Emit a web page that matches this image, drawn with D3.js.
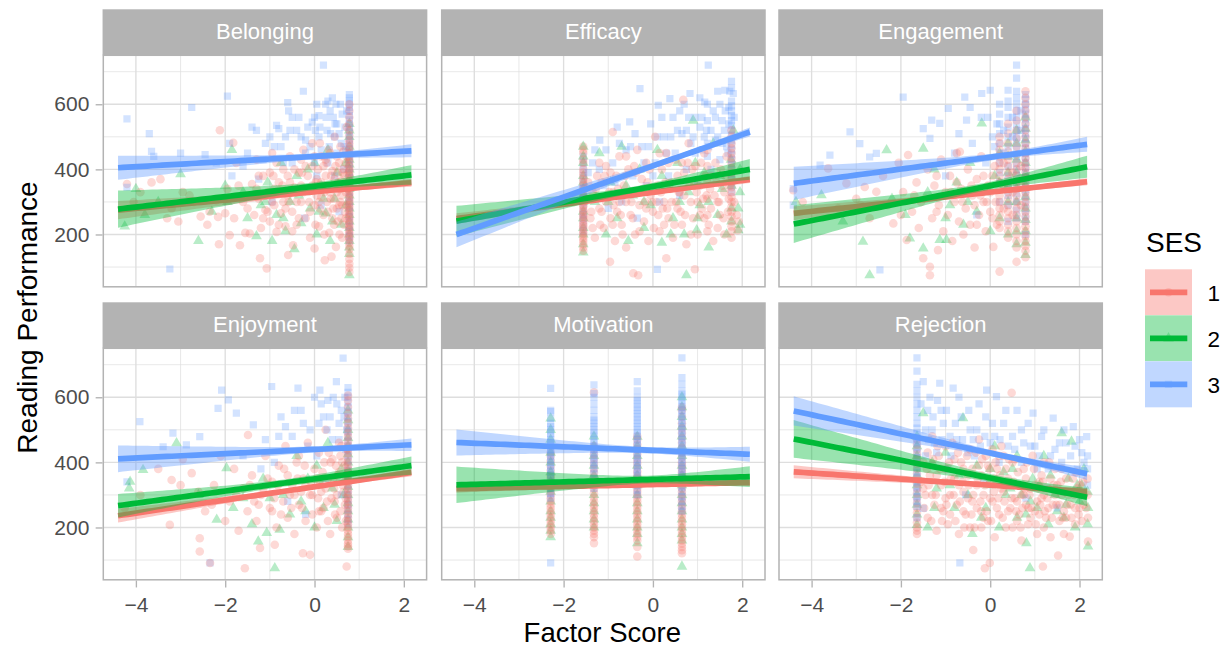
<!DOCTYPE html>
<html><head><meta charset="utf-8">
<script src="https://cdn.jsdelivr.net/npm/d3@7"></script>
<style>
html,body{margin:0;padding:0;background:#fff;}
svg{display:block;font-family:"Liberation Sans",Arial,Helvetica,sans-serif;}
</style></head><body>
<svg id="chart" width="1224" height="648"></svg>
<script>
// Facets, groups and axis breaks
const factors = ["Belonging","Efficacy","Engagement","Enjoyment","Motivation","Rejection"];
const sesLevels = ["1","2","3"];
const sesColors = ["#F8766D","#00BA38","#619CFF"];
const xTicks = [-4,-2,0,2];
const xMinor = [-3,-1,1];
const yTicks = [200,400,600];
const yMinor = [100,300,500,700];
const xDomain = [-4.73, 2.51];
const yDomain = [39.3, 750.4];
const fitRange = [-4.40, 2.17];

// pairs a factor-score value shared by several students with their reading scores
function col(x, ys){ return ys.map(y => [x, y]); }

// ---- Belonging: [factor score, reading performance]
const belonging1 = [[-4.2,355],[-4.05,300],[-3.9,330],[-3.65,360],[-3.45,370],[-3.3,250],[-3.2,280],[-3.05,240],[-2.95,330],[-2.8,320],[-2.7,300],[-2.55,255],[-2.4,230],[-2.35,270],[-2.2,305],[-2.16,254],[-2.14,170],[-2.12,520],[-2.0,265],[-1.95,340],[-1.9,198],[-1.82,482],[-1.8,250],[-1.75,420],[-1.7,350],[-1.67,167],[-1.6,300],[-1.55,205],[-1.5,280],[-1.45,203],[-1.4,355],[-1.35,260],[-1.3,430],[-1.3,340],[-1.25,310],[-1.22,127],[-1.2,220],[-1.15,380],[-1.15,250],[-1.1,275],[-1.07,96],[-1.05,330],[-1.0,240],[-1.0,390],[-0.95,450],[-0.95,300],[-0.9,290],[-0.9,340],[-0.85,208],[-0.85,420],[-0.8,360],[-0.8,230],[-0.75,265],[-0.75,330],[-0.7,400],[-0.7,300],[-0.65,225],[-0.65,280],[-0.6,320],[-0.6,380],[-0.59,137],[-0.55,440],[-0.55,360],[-0.5,270],[-0.5,210],[-0.48,167],[-0.45,345],[-0.45,400],[-0.4,230],[-0.4,300],[-0.35,390],[-0.35,250],[-0.3,300],[-0.3,350],[-0.3,430],[-0.25,460],[-0.25,330],[-0.2,250],[-0.2,410],[-0.15,335],[-0.15,380],[-0.1,190],[-0.1,270],[-0.05,410],[-0.05,350],[0,157],[0,290],[0,440],[0.02,230],[0.05,370],[0.05,320],[0.08,400],[0.1,225],[0.1,300],[0.12,480],[0.15,315],[0.15,360],[0.18,340],[0.2,260],[0.2,410],[0.22,200],[0.23,121],[0.25,430],[0.25,380],[0.28,300],[0.3,350],[0.3,270],[0.32,460],[0.33,205],[0.35,330],[0.36,310],[0.38,132],[0.4,395],[0.4,250],[0.4,350],[0.42,280],[0.44,230],[0.45,500],[0.45,370],[0.47,410],[0.48,162],[0.5,330],[0.5,440],[0.5,280],[0.52,240],[0.53,360],[0.55,420],[0.55,290],[0.56,200],[0.58,300],[0.58,470],[0.6,365],[0.6,250],[0.6,320],[0.62,190],[0.63,390],[0.65,455],[0.65,400],[0.66,230],[0.68,270],[0.68,350],[0.7,330],[0.7,420],[0.72,290],[0.72,530],
  ...col(0.78,[600,580,560,540,520,505,490,480,470,460,450,440,430,420,410,400,395,387,380,372,365,357,350,342,335,327,320,312,305,297,290,282,275,267,260,252,245,237,230,222,215,207,200,192,185,175,165,155,140,125,110,98,85]),
  [-1.45,320],[-1.25,380],[-1.05,270],[-0.92,380],[-0.72,350],[-0.58,300],[-0.42,330],[-0.28,390],[-0.12,300],[0.03,360],[0.12,280],[0.22,330],[0.27,420],[0.37,380],[0.43,310],[0.52,390],[0.57,340],[0.62,290],[0.67,380],[0.7,250],[0.73,440],[0.73,340],[0.35,450],[0.15,440],[-0.05,480]];
const belonging2 = [[-4.25,225],[-4.0,340],[-3.8,260],[-3.5,300],[-3.0,385],[-2.6,180],[-2.3,270],[-2.0,350],[-1.95,300],[-1.85,460],[-1.6,330],[-1.5,250],[-1.3,195],[-1.2,290],[-1.1,300],[-1.05,360],[-0.95,180],[-0.85,260],[-0.75,420],[-0.7,250],[-0.65,210],[-0.55,300],[-0.45,155],[-0.4,380],[-0.35,320],[-0.3,235],[-0.2,330],[-0.15,400],[-0.1,280],[0,420],[0.05,200],[0.1,270],[0.15,350],[0.2,310],[0.25,265],[0.3,460],[0.35,180],[0.4,240],[0.45,310],[0.5,390],[0.55,350],[0.6,230],[0.65,340],[0.7,290],[0.7,420],
  ...col(0.78,[540,520,500,470,450,430,415,400,385,370,355,340,320,300,280,260,240,220,200,180,160,140,75])];
const belonging3 = [[-4.2,555],[-4.2,345],[-3.7,510],[-3.65,455],[-3.6,440],[-3.24,94],[-3.0,450],[-2.75,590],[-2.45,445],[-2.2,420],[-1.95,625],[-1.9,480],[-1.85,380],[-1.6,410],[-1.5,450],[-1.4,530],[-1.3,520],[-1.25,370],[-1.15,430],[-1.1,480],[-1.0,500],[-0.95,300],[-0.9,470],[-0.85,535],[-0.8,525],[-0.7,420],[-0.65,500],[-0.6,605],[-0.58,580],[-0.5,560],[-0.5,420],[-0.45,330],[-0.4,520],[-0.35,560],[-0.3,500],[-0.25,640],[-0.22,250],[-0.2,490],[-0.15,530],[-0.1,470],[-0.05,545],[0,560],[0,420],[0.02,520],[0.05,380],[0.05,600],[0.1,565],[0.1,500],[0.15,290],[0.15,460],[0.2,720],[0.22,440],[0.25,600],[0.28,520],[0.3,610],[0.3,420],[0.33,470],[0.35,580],[0.38,350],[0.4,620],[0.42,560],[0.45,500],[0.45,380],[0.48,600],[0.5,450],[0.5,540],[0.55,270],[0.55,510],[0.6,480],[0.62,570],[0.65,400],[0.68,530],[0.7,460],
  ...col(0.78,[630,620,610,600,590,578,565,552,540,528,515,502,490,478,465,452,440,428,415,402,390,375,360,345,330,315,300,285,270,255,240,225,210,195,180]),
  [-0.75,470],[-0.55,520],[-0.2,450],[0.12,530],[0.26,560],[0.36,510],[0.46,540],[0.58,600],[0.66,470],[0.72,580]];

// ---- Efficacy
const efficacy1 = [...col(-1.56,[470,460,450,430,420,400,390,380,370,360,350,340,330,320,310,300,290,285,275,270,262,255,248,240,232,225,218,210,203,195,188,180,170,160,150]),
  [-1.45,360],[-1.4,250],[-1.35,330],[-1.35,220],[-1.3,190],[-1.25,380],[-1.2,420],[-1.2,280],[-1.15,360],[-1.15,270],[-1.1,220],[-1.05,300],[-1.05,410],[-0.98,330],[-0.96,116],[-0.95,250],[-0.95,390],[-0.9,515],[-0.9,230],[-0.89,330],[-0.85,180],[-0.82,380],[-0.8,270],[-0.75,440],[-0.75,300],[-0.7,230],[-0.68,200],[-0.65,350],[-0.6,300],[-0.6,160],[-0.6,440],[-0.55,400],[-0.52,330],[-0.5,260],[-0.45,250],[-0.44,81],[-0.45,330],[-0.4,200],[-0.38,390],[-0.35,460],[-0.33,75],[-0.3,290],[-0.3,210],[-0.25,370],[-0.22,340],[-0.2,240],[-0.15,420],[-0.15,280],[-0.1,180],[-0.08,400],[-0.05,320],[0,270],[0.02,220],[0.05,500],[0.08,300],[0.1,350],[0.15,210],[0.15,450],[0.2,400],[0.22,280],[0.25,300],[0.28,360],[0.3,127],[0.3,450],[0.35,250],[0.35,420],[0.4,360],[0.42,300],[0.45,190],[0.48,230],[0.5,430],[0.55,280],[0.55,380],[0.6,330],[0.62,270],[0.65,230],[0.68,614],[0.7,390],[0.7,320],[0.75,170],[0.78,420],[0.8,480],[0.85,300],[0.85,200],[0.9,250],[0.92,350],[0.94,93],[0.95,410],[1.0,200],[1.0,300],[1.05,350],[1.08,420],[1.1,280],[1.15,450],[1.15,250],[1.2,320],[1.25,230],[1.3,380],[1.3,280],[1.35,180],[1.38,320],[1.4,420],[1.45,300],[1.45,220],[1.5,260],[1.52,400],[1.55,350],[1.6,200],[1.6,330],[1.65,440],[1.68,270],[1.7,310],
  ...col(1.22,[460,410,360,310,260,210]),
  ...col(1.76,[520,500,480,465,450,435,420,405,390,375,360,345,330,315,300,285,270,255,240,225,210,190]),[1.9,213],[1.92,240],
  [-1.48,310],[-1.38,270],[-1.28,340],[-1.18,230],[-1.08,380],[-0.88,290],[-0.78,340],[-0.72,260],[-0.62,380],[-0.48,300],[-0.42,410],[-0.28,330],[-0.18,300],[-0.12,360],[-0.02,300],[0.12,260],[0.18,330],[0.32,280],[0.38,340],[0.52,300],[0.58,330],[0.72,260],[0.82,350],[0.88,400],[0.98,330],[1.12,310],[1.18,380],[1.28,340],[1.42,360],[1.48,300],[1.58,250],[1.62,380],[1.72,350],[1.82,300],[1.88,260],[0.25,230],[0.65,420],[1.05,260]];
const efficacy2 = [...col(-1.56,[470,440,420,380,360,340,320,300,270,250,220,200,170,145]),
  [-1.3,300],[-1.2,450],[-1.05,200],[-1.0,300],[-0.95,360],[-0.8,250],[-0.7,470],[-0.6,350],[-0.55,180],[-0.45,320],[-0.3,400],[-0.2,220],[-0.2,300],[-0.05,290],[0.1,460],[0.2,175],[0.2,380],[0.3,350],[0.4,200],[0.45,250],[0.55,420],[0.6,300],[0.7,200],[0.75,75],[0.8,330],[0.9,550],[0.95,420],[0.98,213],[1.0,250],[1.05,290],[1.15,390],[1.25,160],[1.25,300],[1.35,480],[1.45,260],[1.5,380],[1.55,340],[1.65,200],[1.75,430],[1.76,350],[1.76,280],[1.76,240],[1.8,520],[1.91,213],[1.91,280],[1.95,330],[1.95,400],[1.95,230]];
const efficacy3 = [...col(-1.56,[440,420,400,380,360,340,320,300,280,260,250,230,210]),
  [-1.45,390],[-1.3,460],[-1.2,400],[-1.19,490],[-1.1,350],[-1.0,280],[-0.9,420],[-0.85,360],[-0.8,530],[-0.7,300],[-0.6,460],[-0.52,546],[-0.5,470],[-0.45,380],[-0.35,250],[-0.29,648],[-0.25,470],[-0.2,420],[-0.15,350],[-0.05,540],[0.05,420],[0.1,93],[0.1,500],[0.12,597],[0.15,300],[0.25,500],[0.3,450],[0.35,380],[0.38,617],[0.45,560],[0.5,450],[0.55,520],[0.6,320],[0.65,510],[0.7,600],[0.75,400],[0.8,560],[0.83,633],[0.85,480],[0.9,500],[0.95,560],[1.0,350],[1.05,620],[1.1,460],[1.1,560],[1.16,607],[1.2,520],[1.24,720],[1.25,470],[1.3,400],[1.35,580],[1.4,490],[1.4,560],[1.45,640],[1.5,430],[1.5,600],[1.55,550],[1.6,520],[1.61,643],[1.65,470],[1.7,590],[1.7,540],[1.8,633],
  ...col(1.22,[600,550,480,440]),
  ...col(1.76,[670,650,610,595,580,565,550,535,520,505,490,475,460,445,430,415,400,385,370,350,330]),
  [-1.35,420],[-1.05,460],[-0.75,480],[-0.4,510],[-0.1,470],[0.2,560],[0.4,500],[0.6,580],[0.75,520],[0.95,450],[1.05,530],[1.15,500],[1.3,520],[1.45,500],[1.55,480],[1.62,580],[1.68,450],[1.72,640],[1.82,560],[0.0,380]];

// ---- Engagement
const engagement1 = [[-4.41,336],[-4.2,300],[-3.63,403],[-3.4,280],[-3.22,357],[-3.0,310],[-2.9,290],[-2.81,346],[-2.7,250],[-2.55,331],[-2.4,380],[-2.3,290],[-2.17,234],[-2.05,420],[-2.0,260],[-1.95,330],[-1.87,183],[-1.84,444],[-1.75,270],[-1.7,320],[-1.65,360],[-1.6,220],[-1.5,127],[-1.45,310],[-1.4,400],[-1.35,75],[-1.35,101],[-1.3,250],[-1.25,350],[-1.2,380],[-1.17,152],[-1.15,290],[-1.1,430],[-1.05,210],[-1.0,330],[-0.95,260],[-0.95,320],[-0.9,380],[-0.85,180],[-0.8,300],[-0.75,450],[-0.75,360],[-0.7,240],[-0.68,454],[-0.65,340],[-0.6,200],[-0.55,280],[-0.55,330],[-0.5,400],[-0.45,230],[-0.4,320],[-0.35,160],[-0.35,290],[-0.3,370],[-0.25,260],[-0.2,440],[-0.15,300],[-0.15,380],[-0.1,210],[-0.05,350],[0,270],[0,330],[0.05,250],[0.07,162],[0.1,410],
  ...col(0.21,[500,480,460,440,420,400,380,360,340,320,300,280,260,240,220,86]),
  ...col(0.4,[540,510,480,455,430,410,390,370,350,330,310,290,270,250,230,210,190]),
  ...col(0.59,[580,550,520,495,470,445,420,400,380,360,340,320,300,280,260,240,220,200,180,160,116]),
  ...col(0.79,[640,620,600,580,560,540,520,500,480,465,450,435,420,405,390,375,360,345,330,315,300,285,270,255,240,225,210,195,180,165,150,130]),
  [-1.55,300],[-1.2,270],[-0.88,330],[-0.62,300],[-0.42,350],[-0.22,320],[-0.08,300],[0.05,380],[0.12,300],[0.3,350],[0.3,280],[0.5,330],[0.5,390],[0.5,260],[0.69,350],[0.69,290],[0.69,410],[0.3,420],[0.15,230],[-0.3,230]];
const engagement2 = [[-4.35,300],[-3.78,321],[-3.3,240],[-2.85,178],[-2.7,75],[-2.32,459],[-2.2,310],[-1.9,260],[-1.8,188],[-1.5,464],[-1.5,157],[-1.4,330],[-1.25,400],[-1.13,183],[-1.0,250],[-0.98,183],[-0.9,290],[-0.75,360],[-0.6,230],[-0.5,300],[-0.45,420],[-0.3,270],[-0.19,541],[-0.1,330],[0,210],[0.1,380],
  ...col(0.21,[450,360,250]),
  ...col(0.4,[480,440,390,350,300,200]),
  ...col(0.59,[520,480,430,390,340,300,250,210,170]),
  ...col(0.79,[560,525,490,455,420,385,350,315,280,245,210,175,137])];
const engagement3 = [[-4.41,341],[-4.41,290],[-3.81,413],[-3.59,444],[-3.14,515],[-2.92,479],[-2.7,438],[-2.55,449],[-2.47,91],[-1.95,622],[-1.5,525],[-1.35,495],[-1.31,551],[-1.13,541],[-1.0,380],[-0.94,587],[-0.8,450],[-0.7,510],[-0.6,330],[-0.57,622],[-0.53,551],[-0.45,590],[-0.4,480],[-0.3,260],[-0.2,560],[-0.19,633],[-0.1,420],[0,643],[0.05,500],[0.1,470],
  ...col(0.21,[600,570,540,510,480,450,420,390,360,300]),
  ...col(0.4,[643,610,590,560,530,500,470,440,410,380,350,320,290,240]),
  ...col(0.59,[720,680,640,620,600,580,560,540,520,500,480,460,440,420,400,380,350,325,300,275,250]),
  ...col(0.79,[630,615,600,585,570,555,540,525,510,495,480,465,450,435,420,405,390,375,360,340,320,300,280,260,240,200]),
  [0.3,520],[0.3,450],[0.5,560],[0.5,500],[0.69,520],[0.69,580],[0.15,540],[-0.05,560]];

// ---- Enjoyment
const enjoyment1 = [[-4.25,260],[-3.9,300],[-3.5,380],[-3.24,208],[-3.2,346],[-3.0,330],[-2.95,410],[-2.75,367],[-2.6,310],[-2.57,167],[-2.57,126],[-2.45,250],[-2.34,91],[-2.3,270],[-2.25,330],[-2.1,420],[-2.0,220],[-1.9,280],[-1.8,380],[-1.75,300],[-1.7,190],[-1.6,320],[-1.56,75],[-1.5,250],[-1.49,484],[-1.45,330],[-1.4,360],[-1.3,220],[-1.25,270],[-1.22,137],[-1.2,300],[-1.1,420],[-1.05,350],[-1.0,260],[-0.95,340],[-0.9,290],[-0.89,147],[-0.85,200],[-0.8,390],[-0.75,240],[-0.7,280],[-0.65,450],[-0.6,230],[-0.6,360],[-0.55,300],[-0.5,330],[-0.45,180],[-0.45,300],[-0.4,400],[-0.35,270],[-0.35,420],[-0.3,310],[-0.26,121],[-0.25,350],[-0.2,220],[-0.2,330],[-0.15,460],[-0.1,116],[-0.1,300],[-0.05,240],[-0.05,300],[0,380],[0.05,200],[0.05,350],[0.1,430],[0.12,340],[0.15,310],[0.15,250],[0.2,260],[0.22,400],[0.25,500],[0.25,320],[0.3,350],[0.32,430],[0.35,180],[0.38,290],[0.4,410],[0.42,350],[0.45,280],[0.48,390],[0.5,230],[0.5,300],[0.55,370],[0.55,460],[0.58,250],[0.6,450],[0.62,200],[0.62,400],[0.65,310],[0.68,270],[0.7,350],[0.7,220],[0.72,80],
  ...col(0.75,[605,590,570,550,535,520,505,490,478,465,452,440,428,415,402,390,380,370,360,350,340,330,320,310,300,290,280,270,260,250,240,230,220,210,200,190,180,170,160,150,142,135]),
  [-1.35,280],[-1.15,320],[-0.95,250],[-0.82,330],[-0.68,380],[-0.52,260],[-0.38,350],[-0.22,390],[-0.08,340],[0.08,290],[0.18,370],[0.28,280],[0.36,400],[0.44,320],[0.52,360],[0.58,420],[0.63,330],[0.67,390],[0.7,290],[0.72,440],[0.72,360],[0.46,240],[0.3,220],[0.1,250],[-0.28,260]];
const enjoyment2 = [[-4.15,320],[-4.13,341],[-3.84,377],[-3.09,459],[-2.6,300],[-2.19,224],[-1.97,382],[-1.82,260],[-1.6,290],[-1.4,210],[-1.26,157],[-1.15,350],[-1.07,183],[-1.0,290],[-0.89,75],[-0.78,193],[-0.7,300],[-0.55,240],[-0.4,420],[-0.3,280],[-0.2,250],[-0.15,350],[0,200],[0.05,390],[0.15,330],[0.2,260],[0.3,460],[0.4,320],[0.45,270],[0.5,220],[0.6,380],[0.65,300],
  ...col(0.75,[560,530,500,475,450,425,400,375,350,325,300,275,250,225,200,170,140])];
const enjoyment3 = [[-4.2,340],[-3.91,525],[-3.39,448],[-3.17,490],[-2.87,454],[-2.57,479],[-2.34,91],[-2.16,566],[-2.08,622],[-1.93,592],[-1.75,551],[-1.6,420],[-1.37,515],[-1.2,380],[-1.1,470],[-0.96,633],[-0.9,400],[-0.8,480],[-0.75,540],[-0.6,280],[-0.5,480],[-0.45,560],[-0.37,628],[-0.3,560],[-0.2,240],[-0.15,450],[-0.1,500],[0,600],[0.05,420],[0.1,520],[0.12,622],[0.2,540],[0.25,350],[0.3,590],[0.35,540],[0.4,470],[0.49,648],[0.5,580],[0.55,520],[0.6,300],[0.6,560],[0.64,720],[0.68,600],[0.7,440],
  ...col(0.75,[630,615,600,585,570,555,540,525,510,495,480,465,450,435,420,405,390,375,360,345,330,315,300,285,270,255,240,225,210]),
  [-0.65,510],[-0.25,520],[0.15,580],[0.28,500],[0.42,600],[0.55,470],[0.66,540],[0.72,500]];

// ---- Motivation (four response levels)
const motivation1 = [...col(-2.29,[430,420,405,390,375,360,350,340,330,320,310,300,290,280,270,260,250,240,230,220,210,200,190,180]),
  ...col(-1.32,[615,450,440,425,410,395,380,368,355,342,330,318,305,292,280,270,260,250,240,230,220,210,200,190,180,170,152]),
  ...col(-0.35,[480,470,455,440,425,410,398,385,372,360,350,340,330,320,310,300,290,280,270,260,250,240,230,220,210,200,190,180,170,160,140,111]),
  ...col(0.65,[570,560,540,520,505,490,475,460,445,430,415,400,390,380,370,360,350,340,330,320,310,300,290,280,270,260,250,240,230,220,210,200,190,180,170,160,150,140,130,121])];
const motivation2 = [...col(-2.29,[535,500,470,430,400,370,340,310,280,250,230,210,190,170]),
  ...col(-1.32,[480,450,420,390,360,330,300,275,250,225,200]),
  ...col(-0.35,[479,450,420,390,360,330,300,275,250,225,200,180,152]),
  ...col(0.65,[600,570,540,510,480,450,420,390,360,330,300,275,250,225,200,180,160,80])];
const motivation3 = [...col(-2.29,[627,560,556,535,520,510,500,490,480,470,460,450,440,430,420,410,400,390,380,370,360,350,335,320,305,290,91]),
  ...col(-1.32,[638,612,600,580,560,540,530,520,510,500,490,480,470,460,450,440,430,420,410,400,390,380,365,350,335,320]),
  ...col(-0.35,[648,620,600,590,580,570,560,550,540,530,520,510,500,490,480,470,460,450,440,430,420,410,400,390,380,370,360,345,330,315,300]),
  ...col(0.65,[721,660,640,620,610,600,590,580,570,560,550,540,530,520,510,500,490,480,470,460,450,440,430,420,410,400,390,380,370,360,350,340,325,310,295,280,265,250])];

// ---- Rejection
const rejection1 = [...col(-1.64,[470,455,440,425,410,395,380,365,350,335,320,305,290,275,260,245,230,215,200,190,180]),
  [-1.55,340],[-1.5,400],[-1.5,320],[-1.45,300],[-1.4,230],[-1.4,430],[-1.35,360],[-1.3,480],[-1.3,300],[-1.25,270],[-1.2,190],[-1.2,360],[-1.15,420],[-1.1,330],[-1.1,260],[-1.05,250],[-1.0,380],[-1.0,290],[-1.0,450],[-0.95,210],[-0.9,300],[-0.9,240],[-0.85,460],[-0.8,350],[-0.8,410],[-0.75,270],[-0.7,180],[-0.7,330],[-0.65,400],[-0.6,310],[-0.6,380],[-0.6,250],[-0.55,240],[-0.5,360],[-0.5,290],[-0.45,440],[-0.45,200],[-0.4,280],[-0.4,380],[-0.38,131],[-0.35,200],[-0.3,330],[-0.3,260],[-0.25,390],[-0.25,470],[-0.2,250],[-0.2,360],[-0.2,200],[-0.15,300],[-0.15,230],[-0.12,75],[-0.1,420],[-0.05,220],[-0.05,390],[-0.01,91],[0,340],[0,290],[0.05,280],[0.05,440],[0.1,170],[0.1,350],[0.15,380],[0.15,260],[0.2,240],[0.2,420],[0.25,450],[0.25,320],[0.3,310],[0.3,420],[0.35,200],[0.35,380],[0.4,350],[0.4,250],[0.45,260],[0.45,330],[0.48,614],[0.5,400],[0.5,200],[0.55,290],[0.55,410],[0.6,220],[0.6,280],[0.65,330],[0.65,240],[0.7,160],[0.7,300],[0.75,380],[0.75,300],[0.8,270],[0.8,350],[0.85,210],[0.85,260],[0.9,320],[0.9,230],[0.95,420],[1.0,250],[1.0,330],[1.05,180],[1.05,280],[1.1,340],[1.1,240],[1.15,290],[1.15,360],[1.18,80],[1.2,400],[1.2,300],[1.2,200],[1.25,230],[1.3,320],[1.3,260],[1.35,170],[1.35,350],[1.4,270],[1.45,380],[1.45,300],[1.5,330],[1.52,114],[1.55,220],[1.55,270],[1.6,300],[1.6,380],[1.65,250],[1.65,180],[1.7,350],[1.7,230],[1.75,300],[1.78,172],[1.8,270],[1.85,350],[1.9,210],[1.9,260],[1.95,320],[2.0,260],[2.0,330],[2.05,220],[2.1,300],[2.1,270],[2.18,300],[2.18,350],[2.19,157],[2.19,230],
  [-1.48,260],[-1.42,380],[-1.38,330],[-1.32,220],[-1.28,410],[-1.22,300],[-1.18,450],[-1.12,380],[-1.08,220],[-1.02,340],[-0.98,270],[-0.92,400],[-0.88,350],[-0.82,300],[-0.78,220],[-0.72,430],[-0.68,280],[-0.62,340],[-0.58,200],[-0.52,420],[-0.48,330],[-0.42,240],[-0.38,300],[-0.32,430],[-0.28,350],[-0.22,280],[-0.18,410],[-0.12,330],[-0.08,250],[-0.02,380],[0.02,220],[0.08,310],[0.12,400],[0.18,290],[0.22,360],[0.28,230],[0.32,280],[0.38,330],[0.42,410],[0.48,290],[0.52,340],[0.58,250],[0.62,370],[0.68,200],[0.72,260],[0.78,320],[0.82,400],[0.88,300],[0.92,260],[0.98,380],[1.02,210],[1.08,320],[1.12,270],[1.18,340],[1.22,250],[1.28,290],[1.32,400],[1.38,230],[1.42,330],[1.48,270],[1.58,340],[1.62,230],[1.68,310],[1.72,270],[1.82,230],[1.88,300],[1.92,370],[1.98,240],[2.08,340],[2.15,260]];
const rejection2 = [...col(-1.64,[480,450,420,360,330,300,270,240,208]),
  [-1.5,551],[-1.4,200],[-1.3,400],[-1.25,260],[-1.2,320],[-1.0,430],[-0.9,330],[-0.8,260],[-0.7,360],[-0.61,536],[-0.5,300],[-0.4,180],[-0.3,390],[-0.2,230],[-0.1,260],[-0.05,330],[0,380],[0.1,450],[0.2,200],[0.3,370],[0.35,300],[0.45,320],[0.5,380],[0.6,230],[0.6,420],[0.7,300],[0.8,240],[0.81,152],[0.89,75],[0.9,280],[0.95,350],[1.05,260],[1.1,330],[1.2,420],[1.3,210],[1.35,360],[1.45,300],[1.5,250],[1.6,490],[1.65,230],[1.7,270],[1.75,350],[1.82,464],[1.9,200],[1.95,330],[2.0,280],[2.05,330],[2.1,380],[2.18,310],[2.18,210],[2.19,142],[2.19,260]];
const rejection3 = [...col(-1.64,[721,680,640,620,600,580,560,540,520,505,490,475,460,445,430,415,400,385,370,355,340,325,310,295,280,265,230]),
  [-1.5,648],[-1.5,259],[-1.45,500],[-1.4,560],[-1.35,600],[-1.3,500],[-1.25,460],[-1.2,430],[-1.13,643],[-1.1,560],[-1.05,520],[-0.95,380],[-0.9,480],[-0.83,628],[-0.75,470],[-0.7,600],[-0.68,91],[-0.65,540],[-0.55,300],[-0.5,430],[-0.45,500],[-0.35,420],[-0.3,500],[-0.25,580],[-0.15,350],[-0.1,540],[-0.08,622],[0,460],[0.1,480],[0.14,602],[0.2,400],[0.3,520],[0.4,330],[0.4,450],[0.5,480],[0.6,560],[0.7,400],[0.7,500],[0.8,290],[0.9,450],[0.96,551],[1.0,450],[1.05,380],[1.15,480],[1.25,320],[1.3,380],[1.35,420],[1.41,536],[1.5,260],[1.55,460],[1.6,400],[1.7,460],[1.8,420],[1.86,510],[1.95,380],[2.0,470],[2.05,430],[2.16,479],[2.18,330],[2.18,420],[2.18,380],
  [-1.55,580],[-1.45,420],[-1.38,470],[-1.28,540],[-1.18,590],[-1.08,470],[-0.98,560],[-0.88,420],[-0.78,520],[-0.62,470],[-0.48,560],[-0.38,470],[-0.22,450],[-0.12,480],[0.05,520],[0.22,470],[0.35,560],[0.55,440],[0.75,460],[0.85,520],[1.1,420],[1.2,500],[1.45,440],[1.65,500],[1.9,450],[2.1,400]];

// ---- Linear fits per SES: [value at left end, value at right end, CI half-width left, right, narrowest]
const fitBelonging  = [[275,359,28,12,7],[278,383,57,30,12],[405,457,37,20,9]];
const fitEfficacy   = [[249,369,16,11,6],[241,400,47,32,10],[200,515,39,14,8]];
const fitEngagement = [[265,362,21,11,6],[232,408,58,34,12],[357,477,51,23,10]];
const fitEnjoyment  = [[236,369,21,12,6],[267,390,36,28,11],[411,454,41,19,9]];
const fitMotivation = [[319,338,12,10,6],[331,356,56,32,12],[461,425,40,23,10]];
const fitRejection  = [[371,310,20,10,6],[472,293,58,28,12],[558,365,45,19,9]];

const panelPoints = [
  [belonging1, belonging2, belonging3],
  [efficacy1, efficacy2, efficacy3],
  [engagement1, engagement2, engagement3],
  [enjoyment1, enjoyment2, enjoyment3],
  [motivation1, motivation2, motivation3],
  [rejection1, rejection2, rejection3]
];
const panelFits = [fitBelonging, fitEfficacy, fitEngagement, fitEnjoyment, fitMotivation, fitRejection];

// ---- Layout
const svg = d3.select("#chart");
const panelW = 323.3, panelH = 231.5, stripH = 46;
const panelLefts = [103.3, 441.7, 779.0];
const panelTops = [55.3, 348.3];
const gridCol = "#DEDEDE", borderCol = "#B3B3B3";
const symbolTypes = [d3.symbolCircle, d3.symbolTriangle, d3.symbolSquare];
const symbolSizes = [58, 50, 52];
const pointAlpha = 0.28;

// confidence band of a straight-line fit, hyperbolic in x
function fitBand(p) {
  const [yL, yR, wL, wR, w0] = p;
  const [xa, xb] = fitRange;
  const slope = (yR - yL) / (xb - xa);
  const r = Math.sqrt((wL * wL - w0 * w0) / (wR * wR - w0 * w0));
  const c = (xa + r * xb) / (1 + r);
  const B = (wL * wL - w0 * w0) / ((c - xa) * (c - xa));
  return d3.range(0, 61).map(k => {
    const xv = xa + (xb - xa) * k / 60;
    const yv = yL + slope * (xv - xa);
    const hw = Math.sqrt(w0 * w0 + B * (xv - c) * (xv - c));
    return { x: xv, y: yv, lo: yv - hw, hi: yv + hw };
  });
}

const defs = svg.append("defs");

factors.forEach((name, i) => {
  const c = i % 3, r = Math.floor(i / 3);
  const x0 = panelLefts[c], y0 = panelTops[r];
  const x = d3.scaleLinear().domain(xDomain).range([x0, x0 + panelW]);
  const y = d3.scaleLinear().domain(yDomain).range([y0 + panelH, y0]);

  defs.append("clipPath").attr("id", "clip" + i)
    .append("rect").attr("x", x0).attr("y", y0).attr("width", panelW).attr("height", panelH);

  const g = svg.append("g");
  g.append("rect").attr("x", x0).attr("y", y0).attr("width", panelW).attr("height", panelH).attr("fill", "#fff");

  // grid
  const grid = g.append("g").attr("clip-path", `url(#clip${i})`);
  grid.selectAll(".vmin").data(xMinor).join("line")
    .attr("x1", d => x(d)).attr("x2", d => x(d)).attr("y1", y0).attr("y2", y0 + panelH)
    .attr("stroke", gridCol).attr("stroke-width", 0.7);
  grid.selectAll(".hmin").data(yMinor).join("line")
    .attr("y1", d => y(d)).attr("y2", d => y(d)).attr("x1", x0).attr("x2", x0 + panelW)
    .attr("stroke", gridCol).attr("stroke-width", 0.7);
  grid.selectAll(".vmaj").data(xTicks).join("line")
    .attr("x1", d => x(d)).attr("x2", d => x(d)).attr("y1", y0).attr("y2", y0 + panelH)
    .attr("stroke", gridCol).attr("stroke-width", 1.35);
  grid.selectAll(".hmaj").data(yTicks).join("line")
    .attr("y1", d => y(d)).attr("y2", d => y(d)).attr("x1", x0).attr("x2", x0 + panelW)
    .attr("stroke", gridCol).attr("stroke-width", 1.35);

  // points, interleaved across SES groups
  const sets = panelPoints[i];
  const pts = [];
  const n = d3.max(sets, s => s.length);
  for (let k = 0; k < n; k++) {
    sets.forEach((s, si) => { if (k < s.length) pts.push({ x: s[k][0], y: s[k][1], s: si }); });
  }
  const pg = g.append("g").attr("clip-path", `url(#clip${i})`);
  pg.selectAll("path").data(pts).join("path")
    .attr("transform", d => `translate(${x(d.x)},${y(d.y)})`)
    .attr("d", d => d3.symbol().type(symbolTypes[d.s]).size(symbolSizes[d.s])())
    .attr("fill", d => sesColors[d.s])
    .attr("fill-opacity", pointAlpha);

  // fitted lines with confidence ribbons
  const sg = g.append("g").attr("clip-path", `url(#clip${i})`);
  panelFits[i].forEach((p, si) => {
    const band = fitBand(p);
    sg.append("path").datum(band)
      .attr("d", d3.area().x(d => x(d.x)).y0(d => y(d.lo)).y1(d => y(d.hi)))
      .attr("fill", sesColors[si]).attr("fill-opacity", 0.4);
    sg.append("path").datum(band)
      .attr("d", d3.line().x(d => x(d.x)).y(d => y(d.y)))
      .attr("fill", "none").attr("stroke", sesColors[si]).attr("stroke-width", 5.7);
  });

  // panel border
  g.append("rect").attr("x", x0).attr("y", y0).attr("width", panelW).attr("height", panelH)
    .attr("fill", "none").attr("stroke", borderCol).attr("stroke-width", 1.5);

  // strip
  g.append("rect").attr("x", x0 - 0.75).attr("y", y0 - stripH).attr("width", panelW + 1.5).attr("height", stripH)
    .attr("fill", "#B3B3B3");
  g.append("text").attr("x", x0 + panelW / 2).attr("y", y0 - stripH + 29.4)
    .attr("text-anchor", "middle").attr("fill", "#fff").attr("font-size", "22px").text(name);

  // axes
  if (c === 0) {
    const ax = g.append("g").attr("transform", `translate(${x0 - 0.75},0)`)
      .call(d3.axisLeft(y).tickValues(yTicks).tickSize(6.9).tickPadding(6.3));
    ax.select(".domain").remove();
    ax.selectAll("line").attr("stroke", borderCol).attr("stroke-width", 1.35);
    ax.selectAll("text").attr("fill", "#4D4D4D").attr("font-size", "21px").attr("font-family", null);
  }
  if (r === 1) {
    const ax = g.append("g").attr("transform", `translate(0,${y0 + panelH + 0.75})`)
      .call(d3.axisBottom(x).tickValues(xTicks).tickSize(6.9).tickPadding(9.5));
    ax.select(".domain").remove();
    ax.selectAll("line").attr("stroke", borderCol).attr("stroke-width", 1.35);
    ax.selectAll("text").attr("fill", "#4D4D4D").attr("font-size", "21px").attr("font-family", null);
  }
});

// axis titles
svg.append("text").attr("x", 602.3).attr("y", 642.3).attr("text-anchor", "middle")
  .attr("font-size", "27.5px").attr("fill", "#000").text("Factor Score");
svg.append("text").attr("transform", "translate(37,317.5) rotate(-90)").attr("text-anchor", "middle")
  .attr("font-size", "28px").attr("fill", "#000").text("Reading Performance");

// legend
const lg = svg.append("g");
lg.append("text").attr("x", 1146).attr("y", 251.7).attr("font-size", "28px").attr("fill", "#000").text("SES");
sesLevels.forEach((lab, k) => {
  const ky = 269.3 + k * 46;
  lg.append("rect").attr("x", 1145).attr("y", ky).attr("width", 47).attr("height", 46).attr("fill", "#fff");
  lg.append("path").attr("transform", `translate(${1168.5},${ky + 23})`)
    .attr("d", d3.symbol().type(symbolTypes[k]).size(symbolSizes[k])())
    .attr("fill", sesColors[k]).attr("fill-opacity", pointAlpha);
  lg.append("rect").attr("x", 1145).attr("y", ky).attr("width", 47).attr("height", 46)
    .attr("fill", sesColors[k]).attr("fill-opacity", 0.4);
  lg.append("line").attr("x1", 1150).attr("x2", 1187.3).attr("y1", ky + 23).attr("y2", ky + 23)
    .attr("stroke", sesColors[k]).attr("stroke-width", 5.7);
  lg.append("text").attr("x", 1207.5).attr("y", ky + 31.3).attr("font-size", "22.5px").attr("fill", "#000").text(lab);
});
</script>
</body></html>
